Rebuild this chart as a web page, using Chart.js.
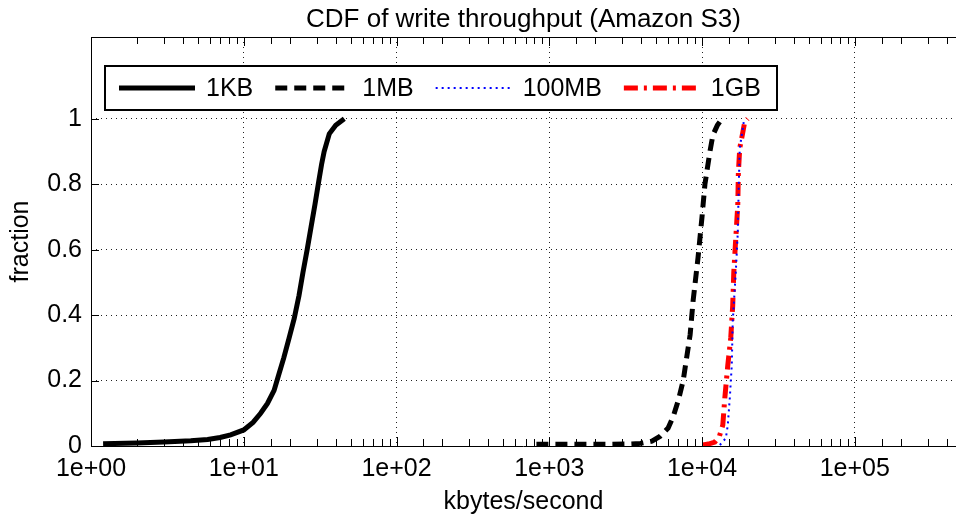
<!DOCTYPE html>
<html>
<head>
<meta charset="utf-8">
<script src="https://cdn.jsdelivr.net/npm/chart.js"></script>
<style>
  html, body { margin: 0; padding: 0; background: #fff; }
  #wrap { width: 956px; height: 518px; }
</style>
</head>
<body>
<div id="wrap"><canvas id="cdf" width="956" height="518"></canvas></div>
<script>
// CDF of write throughput (kbytes/second, fraction)
const seriesLabels = ['1KB', '1MB', '100MB', '1GB'];

const kb1X = [1.2, 2, 3, 4.5, 5.8, 7, 8.2, 10, 11.5, 12.9, 14.3, 15.8, 17, 18.3, 19.8, 21.4, 23, 24.4, 26, 27.6, 29.3, 31, 32.3, 33.6, 36.3, 40, 45.5];
const kb1Y = [0.007, 0.009, 0.012, 0.016, 0.02, 0.026, 0.034, 0.049, 0.072, 0.10, 0.13, 0.17, 0.22, 0.27, 0.33, 0.39, 0.46, 0.53, 0.60, 0.67, 0.74, 0.81, 0.86, 0.90, 0.954, 0.98, 1.0];

const mb1X = [824, 1500, 2500, 3300, 3950, 4700, 5330, 6000, 6480, 7000, 7530, 8360, 8750, 9420, 10000, 10450, 11270, 11780, 12600, 13490];
const mb1Y = [0.005, 0.005, 0.005, 0.006, 0.008, 0.015, 0.03, 0.055, 0.09, 0.14, 0.20, 0.34, 0.445, 0.576, 0.70, 0.80, 0.90, 0.95, 0.98, 1.0];

const mb100X = [13090, 14320, 14750, 15200, 15660, 15890, 16630, 17140, 17400, 17660, 18750];
const mb100Y = [0.003, 0.024, 0.064, 0.146, 0.247, 0.38, 0.53, 0.65, 0.796, 0.91, 0.99];

const gb1X = [10150, 11000, 12130, 13000, 13680, 14100, 14750, 15420, 15890, 16140, 16630, 17140, 17300, 17660, 18470, 19030, 19900];
const gb1Y = [0.003, 0.006, 0.012, 0.03, 0.064, 0.146, 0.247, 0.33, 0.43, 0.53, 0.634, 0.735, 0.835, 0.91, 0.957, 0.99, 1.0];

const yTickValues = [0, 0.2, 0.4, 0.6, 0.8, 1];

function toPoints(xs, ys) {
  return xs.map((x, i) => ({ x: x, y: ys[i] }));
}

function isDecade(v) {
  const l = Math.log10(v);
  return Math.abs(l - Math.round(l)) < 1e-9;
}

const FONT = 'Liberation Sans, Arial, sans-serif';

// frame, inward ticks and the boxed legend
const framePlugin = {
  id: 'frame',
  afterDraw(chart) {
    const { ctx, chartArea: a, scales: { x, y } } = chart;
    ctx.save();
    ctx.strokeStyle = '#000';
    ctx.lineWidth = 1;
    ctx.beginPath();
    ctx.moveTo(a.left + 0.5, a.bottom + 0.5);
    ctx.lineTo(a.left + 0.5, a.top + 0.5);
    ctx.lineTo(a.right, a.top + 0.5);
    ctx.moveTo(a.left, a.bottom + 0.5);
    ctx.lineTo(a.right, a.bottom + 0.5);
    x.ticks.forEach(t => {
      const px = Math.round(x.getPixelForValue(t.value)) + 0.5;
      const len = isDecade(t.value) ? 9 : 7;
      ctx.moveTo(px, a.bottom);
      ctx.lineTo(px, a.bottom - len);
      ctx.moveTo(px, a.top);
      ctx.lineTo(px, a.top + len);
    });
    y.ticks.forEach(t => {
      const py = Math.round(y.getPixelForValue(t.value)) + 0.5;
      ctx.moveTo(a.left, py);
      ctx.lineTo(a.left + 8, py);
    });
    ctx.stroke();

    // legend
    const bx = 105, by = 66, bw = 672, bh = 44;
    ctx.fillStyle = '#fff';
    ctx.fillRect(bx, by, bw, bh);
    ctx.lineWidth = 2;
    ctx.strokeRect(bx, by, bw, bh);
    ctx.font = '25px ' + FONT;
    ctx.textBaseline = 'middle';
    let cx = 119;
    const cy = by + bh / 2;
    chart.data.datasets.forEach(ds => {
      ctx.beginPath();
      ctx.strokeStyle = ds.borderColor;
      ctx.lineWidth = ds.borderWidth;
      ctx.setLineDash(ds.borderDash || []);
      ctx.moveTo(cx, cy);
      ctx.lineTo(cx + 76, cy);
      ctx.stroke();
      ctx.setLineDash([]);
      cx += 87;
      ctx.fillStyle = '#000';
      ctx.fillText(ds.label, cx, cy + 1);
      cx += ctx.measureText(ds.label).width + 22;
    });
    ctx.restore();
  }
};

new Chart(document.getElementById('cdf'), {
  type: 'line',
  data: {
    datasets: [
      { label: seriesLabels[0], data: toPoints(kb1X, kb1Y), borderColor: '#000', borderWidth: 5, order: 3 },
      { label: seriesLabels[1], data: toPoints(mb1X, mb1Y), borderColor: '#000', borderWidth: 5, borderDash: [12, 7], order: 2 },
      { label: seriesLabels[2], data: toPoints(mb100X, mb100Y), borderColor: '#0000ff', borderWidth: 2, borderDash: [2, 4], order: 0 },
      { label: seriesLabels[3], data: toPoints(gb1X, gb1Y), borderColor: '#ff0000', borderWidth: 5, borderDash: [14, 6, 3, 6], order: 1 }
    ]
  },
  options: {
    responsive: false,
    animation: false,
    events: [],
    elements: { point: { radius: 0 }, line: { tension: 0, fill: false, borderCapStyle: 'butt' } },
    layout: { padding: { top: 0, right: 0, left: 0, bottom: 0 } },
    plugins: {
      legend: { display: false },
      tooltip: { enabled: false },
      title: {
        display: true,
        fullSize: false,
        text: 'CDF of write throughput (Amazon S3)',
        color: '#000',
        font: { family: FONT, size: 26, weight: 'normal', lineHeight: 1 },
        padding: { top: 7, bottom: 4 }
      }
    },
    scales: {
      x: {
        type: 'logarithmic',
        min: 1,
        max: 4.6e5,
        afterFit: s => { s.height = 72; s.paddingLeft = 0; s.paddingRight = 0; },
        border: { display: false, dash: [1, 4] },
        grid: {
          drawTicks: false,
          color: c => (c.tick && isDecade(c.tick.value) ? '#222' : 'rgba(0,0,0,0)'),
          lineWidth: 1
        },
        ticks: {
          autoSkip: false,
          maxRotation: 0,
          padding: 8,
          color: '#000',
          font: { family: FONT, size: 25 },
          callback: v => (isDecade(v) ? '1e+' + String(Math.round(Math.log10(v))).padStart(2, '0') : '')
        },
        title: {
          display: true,
          text: 'kbytes/second',
          color: '#000',
          font: { family: FONT, size: 25 },
          padding: { top: 0, bottom: 1 }
        }
      },
      y: {
        min: 0,
        max: 1.25,
        afterFit: s => { s.width = 91; s.paddingTop = 0; s.paddingBottom = 0; },
        afterBuildTicks: s => { s.ticks = yTickValues.map(v => ({ value: v })); },
        border: { display: false, dash: [1, 4] },
        grid: { drawTicks: false, color: '#222', lineWidth: 1 },
        ticks: {
          padding: 9,
          color: '#000',
          font: { family: FONT, size: 25 },
          callback: v => String(+v.toFixed(1))
        },
        title: {
          display: true,
          text: 'fraction',
          color: '#000',
          font: { family: FONT, size: 25 },
          padding: { top: 6, bottom: 0 }
        }
      }
    }
  },
  plugins: [framePlugin]
});
</script>
</body>
</html>
